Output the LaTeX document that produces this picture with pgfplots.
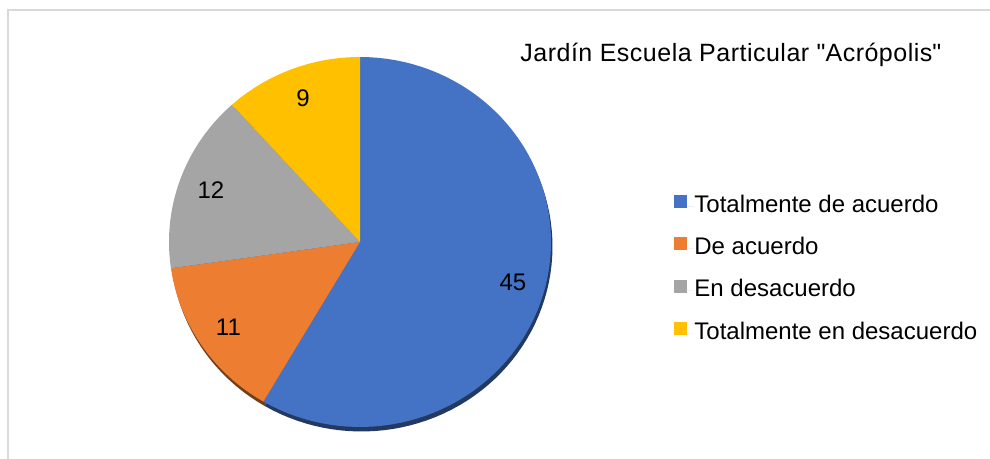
\documentclass[border=0pt]{standalone}
\usepackage{fontspec}
\setmainfont{Liberation Sans}
\usepackage{pgfplots}
\pgfplotsset{compat=1.18}
\definecolor{cA}{HTML}{4472C4}
\definecolor{cB}{HTML}{ED7D31}
\definecolor{cC}{HTML}{A5A5A5}
\definecolor{cD}{HTML}{FFC000}
\definecolor{frm}{HTML}{D9D9D9}
% data
\def\vA{45}\def\vB{11}\def\vC{12}\def\vD{9}
% pie geometry (pixel units of the picture)
\def\cx{360}\def\cy{217}\def\rx{191}\def\ry{185}
\pgfmathsetmacro\tot{\vA+\vB+\vC+\vD}
\pgfmathsetmacro\aA{90}
\pgfmathsetmacro\aB{\aA-360*\vA/\tot}
\pgfmathsetmacro\aC{\aB-360*\vB/\tot}
\pgfmathsetmacro\aD{\aC-360*\vC/\tot}
\pgfmathsetmacro\aE{\aD-360*\vD/\tot}
\pgfmathsetmacro\lr{0.83}
\pgfmathsetmacro\xA{\cx+\lr*\rx*cos((\aA+\aB)/2)}\pgfmathsetmacro\yA{\cy+\lr*\ry*sin((\aA+\aB)/2)}
\pgfmathsetmacro\xB{\cx+\lr*\rx*cos((\aB+\aC)/2)}\pgfmathsetmacro\yB{\cy+\lr*\ry*sin((\aB+\aC)/2)}
\pgfmathsetmacro\xC{\cx+\lr*\rx*cos((\aC+\aD)/2)}\pgfmathsetmacro\yC{\cy+\lr*\ry*sin((\aC+\aD)/2)}
\pgfmathsetmacro\xD{\cx+\lr*\rx*cos((\aD+\aE)/2)}\pgfmathsetmacro\yD{\cy+\lr*\ry*sin((\aD+\aE)/2)}
\newcommand\slice[5]{% from, to, colour, dx, dy
  \addplot[fill=#3, draw=none, domain=#1:#2, samples=80, variable=\t, forget plot]
    ({\cx+#4+\rx*cos(t)},{\cy+#5+\ry*sin(t)}) -- (axis cs:\cx+#4,\cy+#5) -- cycle;
}
\begin{document}
\begin{tikzpicture}
\begin{axis}[
  width=495pt, height=229.5pt, scale only axis,
  xmin=0, xmax=990, ymin=0, ymax=459,
  hide axis,
  legend style={at={(axis cs:674,264.6)}, anchor=north west, draw=none, fill=none,
    inner sep=0pt, row sep=9.75pt,
    font=\fontsize{12}{14}\selectfont,
    nodes={inner sep=0pt, text height=8.8pt, text depth=2.6pt}},
  legend cell align=left,
  legend image code/.code={\fill[#1] (0pt,-1pt) rectangle (6.5pt,5.5pt); \path (0pt,0pt) -- (10pt,0pt);},
]
\path (axis cs:0,0) rectangle (axis cs:990,459);
\addplot[frm, line width=0.8pt, forget plot] coordinates {(8,0) (8,449) (990,449)};
% shadows
\slice{\aB}{\aA}{cA!50!black}{1.5}{-4.5}
\slice{\aC}{\aB}{cB!50!black}{1.5}{-4.5}
\slice{\aD}{\aC}{cC!50!black}{1.5}{-4.5}
\slice{\aE}{\aD}{cD!50!black}{1.5}{-4.5}
% slices
\slice{\aB}{\aA}{cA}{0}{0}
\slice{\aC}{\aB}{cB}{0}{0}
\slice{\aD}{\aC}{cC}{0}{0}
\slice{\aE}{\aD}{cD}{0}{0}
\addlegendimage{fill=cA, draw=none}\addlegendentry{Totalmente de acuerdo}
\addlegendimage{fill=cB, draw=none}\addlegendentry{De acuerdo}
\addlegendimage{fill=cC, draw=none}\addlegendentry{En desacuerdo}
\addlegendimage{fill=cD, draw=none}\addlegendentry{Totalmente en desacuerdo}
\node[font=\fontsize{12}{14}\selectfont] at (axis cs:\xA,\yA) {\vA};
\node[font=\fontsize{12}{14}\selectfont] at (axis cs:\xB,\yB) {\vB};
\node[font=\fontsize{12}{14}\selectfont] at (axis cs:\xC,\yC) {\vC};
\node[font=\fontsize{12}{14}\selectfont] at (axis cs:\xD,\yD) {\vD};
\node[anchor=base west, inner sep=0pt, font=\fontsize{12.5}{15}\selectfont\addfontfeatures{LetterSpace=2}]
  at (axis cs:520,397.3) {Jardín Escuela Particular \textquotedbl Acrópolis\textquotedbl};
\end{axis}
\end{tikzpicture}
\end{document}
